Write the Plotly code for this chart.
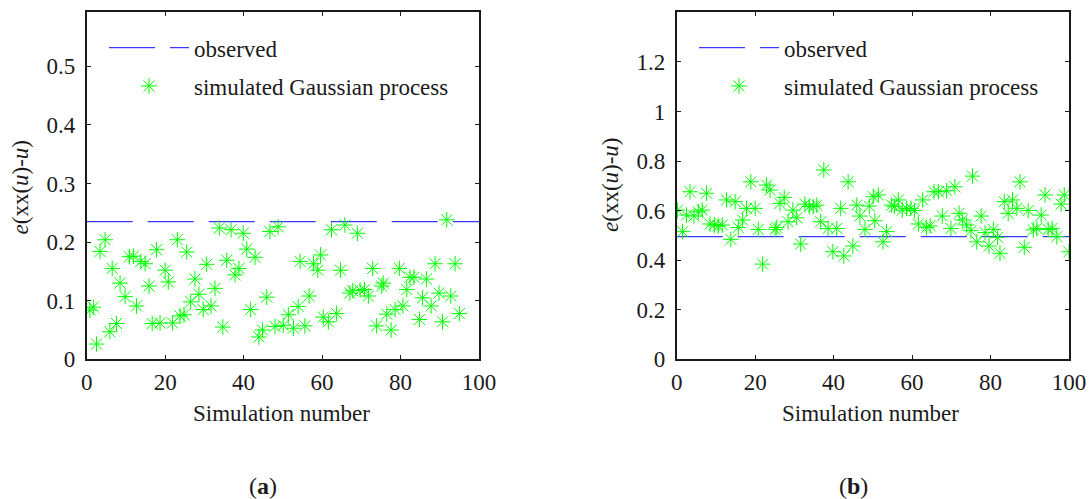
import plotly.graph_objects as go

# ---------------- data ----------------
# (a) left panel
sim_a_x = [0.8, 1.7, 2.5, 3.4, 4.7, 5.9, 6.5, 7.6, 8.5, 9.8, 10.9, 11.9, 12.7, 13.8, 14.9,
           15.9, 16.7, 17.8, 18.7, 20.0, 20.8, 21.9, 23.1, 23.8, 24.8, 25.5, 26.5, 27.6, 28.6,
           29.7, 30.6, 31.7, 32.7, 33.8, 34.7, 35.7, 36.8, 37.8, 38.8, 39.9, 40.8, 41.8, 42.9,
           43.9, 44.8, 45.9, 46.7, 48.0, 48.8,
           50.1, 51.4, 52.7, 53.9, 54.4, 55.6, 56.7, 57.8, 58.9, 59.6, 60.3, 61.6, 62.4, 63.7,
           64.7, 65.8, 67.1, 67.8, 69.0, 69.7, 70.8, 71.8, 72.9, 73.9, 75.2, 75.6, 76.5, 77.6,
           78.6, 79.7, 80.6, 81.6, 82.4, 83.4, 84.8, 85.6, 86.6, 87.8, 88.8, 89.8, 90.7, 91.8,
           92.8, 93.9, 95.0]
sim_a_y = [0.084, 0.089, 0.026, 0.184, 0.204, 0.047, 0.155, 0.061, 0.130, 0.107, 0.175, 0.176,
           0.091, 0.167, 0.163, 0.125, 0.061, 0.187, 0.062, 0.152, 0.132, 0.062, 0.204, 0.074,
           0.076, 0.183, 0.098, 0.137, 0.111, 0.085, 0.162, 0.091, 0.121, 0.224, 0.055, 0.169,
           0.221, 0.144, 0.155, 0.215, 0.188, 0.085, 0.174, 0.038, 0.050, 0.106, 0.218, 0.056,
           0.226,
           0.058, 0.076, 0.053, 0.090, 0.167, 0.057, 0.108, 0.163, 0.152, 0.178, 0.072, 0.064,
           0.221, 0.078, 0.152, 0.229, 0.113, 0.117, 0.215, 0.118, 0.119, 0.108, 0.155, 0.057,
           0.125, 0.130, 0.077, 0.050, 0.085, 0.155, 0.091, 0.119, 0.140, 0.140, 0.068, 0.105,
           0.137, 0.091, 0.163, 0.113, 0.064, 0.238, 0.108, 0.163, 0.078]
obs_x = [0, 100]
obs_a = [0.235, 0.235]

# (b) right panel
sim_b_x = [0.2, 1.5, 2.5, 3.4, 4.4, 5.5, 6.5, 7.6, 8.5, 9.6, 10.6, 11.6, 12.7, 13.8, 14.9, 15.7,
           16.8, 17.8, 18.9, 20.0, 20.8, 21.9, 22.9, 23.8, 25.1, 25.5, 26.3, 27.4, 28.4, 29.6,
           30.6, 31.6, 32.7, 33.8, 34.8, 35.7, 36.7, 37.5, 38.6, 39.8, 40.8, 41.8, 42.6, 43.7,
           44.9, 45.9, 46.7, 48.0, 49.1, 50.1,
           50.5, 51.4, 52.6, 53.5, 54.8, 55.5, 56.5, 57.5, 58.6, 59.7, 60.6, 61.6, 62.7, 63.7,
           64.6, 65.6, 66.7, 67.7, 68.8, 69.9, 70.9, 72.0, 72.8, 73.9, 75.0, 75.4, 76.5, 77.6,
           78.6, 79.6, 80.7, 81.8, 82.4, 83.5, 84.5, 85.6, 86.7, 87.5, 88.6, 89.6, 90.9, 91.8,
           92.9, 93.9, 94.7, 95.7, 96.9, 98.0, 98.8, 100.0]
sim_b_y = [0.602, 0.515, 0.582, 0.676, 0.578, 0.595, 0.602, 0.670, 0.546, 0.542, 0.538, 0.542,
           0.643, 0.484, 0.636, 0.532, 0.562, 0.609, 0.716, 0.609, 0.524, 0.384, 0.703, 0.683,
           0.524, 0.532, 0.629, 0.653, 0.555, 0.602, 0.571, 0.465, 0.626, 0.616, 0.616, 0.622,
           0.555, 0.764, 0.528, 0.434, 0.528, 0.609, 0.417, 0.716, 0.457, 0.622, 0.578, 0.524,
           0.618, 0.656,
           0.559, 0.663, 0.474, 0.515, 0.622, 0.616, 0.643, 0.602, 0.609, 0.609, 0.600, 0.546,
           0.643, 0.532, 0.538, 0.676, 0.676, 0.578, 0.680, 0.528, 0.696, 0.589, 0.562, 0.542,
           0.519, 0.739, 0.474, 0.578, 0.511, 0.457, 0.524, 0.492, 0.428, 0.636, 0.589, 0.643,
           0.609, 0.716, 0.452, 0.600, 0.522, 0.528, 0.582, 0.663, 0.524, 0.528, 0.495, 0.626,
           0.663, 0.434]
obs_b = [0.495, 0.495]

x_ticks = [0, 20, 40, 60, 80, 100]
y_ticks_a = [0, 0.1, 0.2, 0.3, 0.4, 0.5]
y_ticks_b = [0, 0.2, 0.4, 0.6, 0.8, 1, 1.2]

x_title = "Simulation number"
y_title = "<i>e</i>(xx(<i>u</i>)-<i>u</i>)"
panel_labels = ["(<b>a</b>)", "(<b>b</b>)"]

# ---------------- styling ----------------
W, H = 1089, 499
FONT = "Liberation Serif, Times New Roman, Times, serif"
FS = 23
INK = "#1a1a1a"
OBS_COLOR = "#3a3aff"
SIM_COLOR = "#00ff00"
DASH = "46px,15px"

fig = go.Figure()

fig.add_trace(go.Scatter(x=obs_x, y=obs_a, mode="lines", name="observed",
                         line=dict(color=OBS_COLOR, width=1.2, dash=DASH),
                         xaxis="x", yaxis="y", legend="legend"))
fig.add_trace(go.Scatter(x=sim_a_x, y=sim_a_y, mode="markers",
                         name="simulated Gaussian process",
                         marker=dict(symbol="asterisk-open", size=13, color=SIM_COLOR,
                                     line=dict(color=SIM_COLOR, width=1)),
                         xaxis="x", yaxis="y", legend="legend2"))
fig.add_trace(go.Scatter(x=obs_x, y=obs_b, mode="lines", name="observed",
                         line=dict(color=OBS_COLOR, width=1.2, dash=DASH),
                         xaxis="x2", yaxis="y2", legend="legend3"))
fig.add_trace(go.Scatter(x=sim_b_x, y=sim_b_y, mode="markers",
                         name="simulated Gaussian process",
                         marker=dict(symbol="asterisk-open", size=13, color=SIM_COLOR,
                                     line=dict(color=SIM_COLOR, width=1)),
                         xaxis="x2", yaxis="y2", legend="legend4"))

ydom = [1 - 359.3 / H, 1 - 12.3 / H]
xdom_a = [86.7 / W, 479.0 / W]
xdom_b = [676.7 / W, 1069.0 / W]

axis_common = dict(showline=True, linecolor=INK, linewidth=1.7, mirror="ticks",
                   ticks="inside", ticklen=4, tickwidth=1, tickcolor=INK,
                   showgrid=False, zeroline=False, automargin=False,
                   tickfont=dict(family=FONT, size=FS, color=INK))

fig.update_layout(
    width=W, height=H,
    margin=dict(l=0, r=0, t=0, b=0, autoexpand=False),
    paper_bgcolor="white", plot_bgcolor="white",
    showlegend=True,
    font=dict(family=FONT, size=FS, color=INK),
    xaxis=dict(domain=xdom_a, range=[0, 100], tickvals=x_ticks, anchor="y",
               ticklabelstandoff=1, **axis_common),
    yaxis=dict(domain=ydom, range=[0, 0.592], tickvals=y_ticks_a, anchor="x",
               ticklabelstandoff=5, **axis_common),
    xaxis2=dict(domain=xdom_b, range=[0, 100], tickvals=x_ticks, anchor="y2",
                ticklabelstandoff=1, **axis_common),
    yaxis2=dict(domain=ydom, range=[0, 1.4], tickvals=y_ticks_b, anchor="x2",
                ticklabelstandoff=5, **axis_common),
)

leg_common = dict(bgcolor="rgba(0,0,0,0)", borderwidth=0, itemwidth=80,
                  font=dict(family=FONT, size=FS, color=INK),
                  xanchor="left", yanchor="middle", tracegroupgap=0, visible=True)
fig.update_layout(
    legend=dict(x=104 / W, y=1 - 47.7 / H, **leg_common),
    legend2=dict(x=104 / W, y=1 - 86 / H, **leg_common),
    legend3=dict(x=694 / W, y=1 - 47.7 / H, **leg_common),
    legend4=dict(x=694 / W, y=1 - 86 / H, **leg_common),
)

text_font = dict(family=FONT, size=FS, color=INK)
for cx in (281, 870.8):
    fig.add_annotation(text=x_title, x=cx / W, y=1 - 413 / H, xref="paper", yref="paper",
                       xanchor="center", yanchor="middle", showarrow=False, font=text_font)
for cx, cy in ((20, 187.5), (610, 185)):
    fig.add_annotation(text=y_title, x=cx / W, y=1 - cy / H, xref="paper", yref="paper",
                       textangle=-90, xanchor="center", yanchor="middle", showarrow=False,
                       font=text_font)
for cx, lab in zip((263, 853), panel_labels):
    fig.add_annotation(text=lab, x=cx / W, y=1 - 486 / H, xref="paper", yref="paper",
                       xanchor="center", yanchor="middle", showarrow=False,
                       font=dict(family=FONT, size=24, color=INK))

fig.write_html("out.html")
